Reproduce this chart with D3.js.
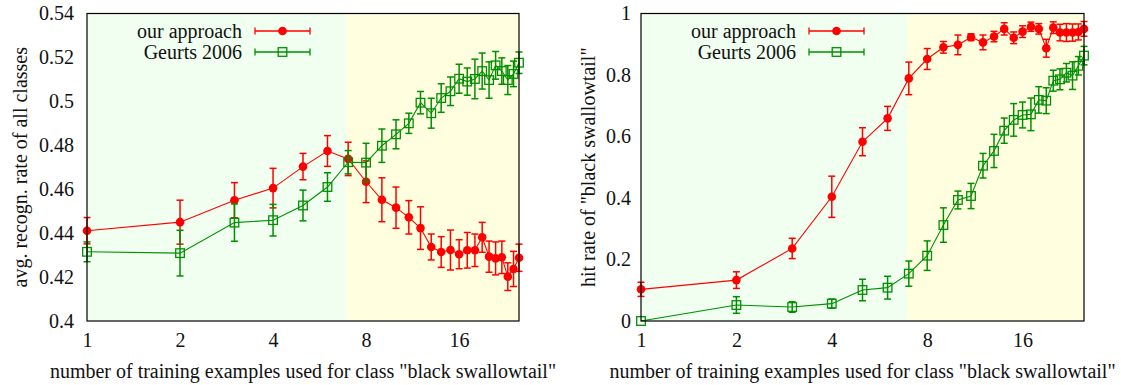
<!DOCTYPE html>
<html>
<head>
<meta charset="utf-8">
<script src="https://cdn.jsdelivr.net/npm/d3@7/dist/d3.min.js"></script>
<style>
  body { margin: 0; background: #fff; }
</style>
</head>
<body>
<svg id="svg" width="1121" height="385"></svg>
<script>
const svg = d3.select("#svg");

// number of training examples for "black swallowtail"
const examples = [1, 2, 3, 4, 5, 6, 7, 8, 9, 10, 11, 12, 13, 14, 15, 16, 17, 18, 19, 20, 21, 22, 23, 24, 25];
const xTicks = [1, 2, 4, 8, 16];
const shadeSplit = 6.9; // green zone on the left, yellow zone on the right

const seriesNames = ["our approach", "Geurts 2006"];

// left panel: avg. recognition rate of all classes
const recogOurs = [0.4411, 0.4450, 0.4550, 0.4605, 0.4703, 0.4774, 0.4738, 0.4634, 0.4552, 0.4516,
  0.4472, 0.4423, 0.4337, 0.4314, 0.4323, 0.4304, 0.4322, 0.4322, 0.4381, 0.4293,
  0.4285, 0.4290, 0.4202, 0.4237, 0.4288];
const recogOursErr = [0.006, 0.010, 0.008, 0.009, 0.006, 0.007, 0.0076, 0.0095, 0.010, 0.0094,
  0.0076, 0.0097, 0.0059, 0.007, 0.0091, 0.0066, 0.0081, 0.0074, 0.0068, 0.0071,
  0.0075, 0.0074, 0.0063, 0.008, 0.0062];
const recogGeurts = [0.4315, 0.4309, 0.4448, 0.4459, 0.4526, 0.4610, 0.4723, 0.4721, 0.4798, 0.4850,
  0.4900, 0.4994, 0.4946, 0.5015, 0.5046, 0.5103, 0.5090, 0.5102, 0.5138, 0.5097,
  0.5164, 0.5138, 0.5097, 0.5125, 0.5176];
const recogGeurtsErr = [0.0045, 0.0104, 0.0085, 0.0072, 0.007, 0.0065, 0.0053, 0.0088, 0.0076, 0.0066,
  0.0046, 0.0051, 0.0068, 0.0065, 0.0065, 0.0066, 0.0062, 0.009, 0.0082, 0.0083,
  0.0063, 0.006, 0.0066, 0.0058, 0.0049];
const recogTicks = [0.4, 0.42, 0.44, 0.46, 0.48, 0.5, 0.52, 0.54];
const recogTickLabels = ["0.4", "0.42", "0.44", "0.46", "0.48", "0.5", "0.52", "0.54"];

// right panel: hit rate of "black swallowtail"
const hitOurs = [0.103, 0.133, 0.236, 0.404, 0.583, 0.659, 0.789, 0.852, 0.890, 0.898,
  0.923, 0.906, 0.925, 0.950, 0.921, 0.941, 0.957, 0.950, 0.887, 0.954,
  0.938, 0.938, 0.938, 0.940, 0.950];
const hitOursErr = [0.023, 0.027, 0.033, 0.067, 0.0455, 0.039, 0.053, 0.034, 0.019, 0.032,
  0.011, 0.024, 0.017, 0.02, 0.019, 0.019, 0.015, 0.017, 0.029, 0.019,
  0.027, 0.029, 0.028, 0.026, 0.024];
const hitGeurts = [0.0, 0.052, 0.0455, 0.0564, 0.1008, 0.1084, 0.154, 0.2125, 0.312, 0.3935,
  0.4065, 0.505, 0.553, 0.619, 0.654, 0.670, 0.672, 0.719, 0.7165, 0.7815,
  0.786, 0.8075, 0.798, 0.830, 0.863];
const hitGeurtsErr = [0.0, 0.027, 0.017, 0.015, 0.035, 0.037, 0.041, 0.048, 0.056, 0.029,
  0.041, 0.04, 0.054, 0.041, 0.053, 0.042, 0.053, 0.043, 0.042, 0.034,
  0.034, 0.03, 0.045, 0.03, 0.03];
const hitTicks = [0, 0.2, 0.4, 0.6, 0.8, 1];
const hitTickLabels = ["0", "0.2", "0.4", "0.6", "0.8", "1"];

const xLabel = 'number of training examples used for class "black swallowtail"';
const red = "#ff0000";
const green = "#008f00";
const serif = '"Liberation Serif", "Times New Roman", serif';
const fontSize = "20px";
const plotTop = 13.5, plotBottom = 321;

function styleText(sel) {
  return sel.style("font-family", serif).style("font-size", fontSize).attr("fill", "#111");
}

function drawPanel(p) {
  const x = d3.scaleLog().base(2).domain([1, d3.max(examples)]).range([p.left, p.right]);
  const y = d3.scaleLinear().domain(p.yDomain).range([plotBottom, plotTop]);
  const g = svg.append("g");

  // background zones
  g.append("rect")
    .attr("x", p.left).attr("y", plotTop)
    .attr("width", x(shadeSplit) - p.left).attr("height", plotBottom - plotTop)
    .attr("fill", "#f0fff0");
  g.append("rect")
    .attr("x", x(shadeSplit)).attr("y", plotTop)
    .attr("width", p.right - x(shadeSplit)).attr("height", plotBottom - plotTop)
    .attr("fill", "#ffffe0");

  // axes, labels only (gnuplot style with a separate frame)
  const yAxis = g.append("g")
    .attr("transform", `translate(${p.left},0)`)
    .call(d3.axisLeft(y).tickValues(p.yTicks).tickSize(0).tickPadding(p.yPad)
      .tickFormat((d, i) => p.yTickLabels[i]));
  const xAxis = g.append("g")
    .attr("transform", `translate(0,${plotBottom})`)
    .call(d3.axisBottom(x).tickValues(xTicks).tickSize(0).tickPadding(12)
      .tickFormat(d3.format("d")));
  [yAxis, xAxis].forEach((a) => {
    a.select(".domain").remove();
    styleText(a.selectAll("text"));
  });

  const series = [
    { name: seriesNames[0], values: p.ours, err: p.oursErr, color: red, mark: "dot" },
    { name: seriesNames[1], values: p.geurts, err: p.geurtsErr, color: green, mark: "square" },
  ];

  const line = d3.line().x((d) => x(d.n)).y((d) => y(d.v));

  series.forEach((s) => {
    const pts = examples.map((n, i) => ({ n, v: s.values[i], e: s.err[i] }));
    const sg = g.append("g");

    sg.append("path")
      .attr("d", line(pts))
      .attr("fill", "none")
      .attr("stroke", s.color)
      .attr("stroke-width", 1.1);

    const bars = sg.selectAll("g.err").data(pts.filter((d) => d.e > 0)).join("g");
    bars.append("line")
      .attr("x1", (d) => x(d.n)).attr("x2", (d) => x(d.n))
      .attr("y1", (d) => y(d.v - d.e)).attr("y2", (d) => y(d.v + d.e));
    bars.append("line")
      .attr("x1", (d) => x(d.n) - 3.5).attr("x2", (d) => x(d.n) + 3.5)
      .attr("y1", (d) => y(d.v - d.e)).attr("y2", (d) => y(d.v - d.e));
    bars.append("line")
      .attr("x1", (d) => x(d.n) - 3.5).attr("x2", (d) => x(d.n) + 3.5)
      .attr("y1", (d) => y(d.v + d.e)).attr("y2", (d) => y(d.v + d.e));
    bars.selectAll("line").attr("stroke", s.color).attr("stroke-width", 1.5);

    drawMarks(sg, pts.map((d) => [x(d.n), y(d.v)]), s);
  });

  // frame
  g.append("rect")
    .attr("x", p.left).attr("y", plotTop)
    .attr("width", p.right - p.left).attr("height", plotBottom - plotTop)
    .attr("fill", "none").attr("stroke", "#000").attr("stroke-width", 1.2);

  // legend
  series.forEach((s, i) => {
    const ly = 31 + i * 21;
    const lx0 = p.left + 168, lx1 = p.left + 223;
    styleText(g.append("text"))
      .attr("x", p.left + 155).attr("y", ly).attr("dy", "0.33em")
      .attr("text-anchor", "end")
      .text(s.name);
    g.append("line").attr("x1", lx0).attr("x2", lx1).attr("y1", ly).attr("y2", ly)
      .attr("stroke", s.color).attr("stroke-width", 1.3);
    [lx0, lx1].forEach((lx) => {
      g.append("line").attr("x1", lx).attr("x2", lx).attr("y1", ly - 3.5).attr("y2", ly + 3.5)
        .attr("stroke", s.color).attr("stroke-width", 1.3);
    });
    drawMarks(g, [[(lx0 + lx1) / 2, ly]], s);
  });

  // axis titles
  styleText(g.append("text"))
    .attr("transform", `translate(${p.yLabelX},${(plotTop + plotBottom) / 2}) rotate(-90)`)
    .attr("text-anchor", "middle").attr("dy", "0.33em")
    .text(p.yLabel);
  styleText(g.append("text"))
    .attr("x", (p.left + p.right) / 2).attr("y", 378)
    .attr("text-anchor", "middle")
    .text(xLabel);
}

function drawMarks(sel, coords, s) {
  if (s.mark === "dot") {
    sel.selectAll(null).data(coords).join("circle")
      .attr("cx", (d) => d[0]).attr("cy", (d) => d[1]).attr("r", 4.3)
      .attr("fill", s.color);
  } else {
    sel.selectAll(null).data(coords).join("rect")
      .attr("x", (d) => d[0] - 4.3).attr("y", (d) => d[1] - 4.3)
      .attr("width", 8.6).attr("height", 8.6)
      .attr("fill", "none").attr("stroke", s.color).attr("stroke-width", 1.3);
  }
}

drawPanel({
  left: 87, right: 519, yDomain: [0.4, 0.54],
  yTicks: recogTicks, yTickLabels: recogTickLabels, yPad: 13,
  ours: recogOurs, oursErr: recogOursErr, geurts: recogGeurts, geurtsErr: recogGeurtsErr,
  yLabel: "avg. recogn. rate of all classes", yLabelX: 20,
});

drawPanel({
  left: 641, right: 1084, yDomain: [0, 1],
  yTicks: hitTicks, yTickLabels: hitTickLabels, yPad: 10,
  ours: hitOurs, oursErr: hitOursErr, geurts: hitGeurts, geurtsErr: hitGeurtsErr,
  yLabel: 'hit rate of "black swallowtail"', yLabelX: 588,
});
</script>
</body>
</html>
